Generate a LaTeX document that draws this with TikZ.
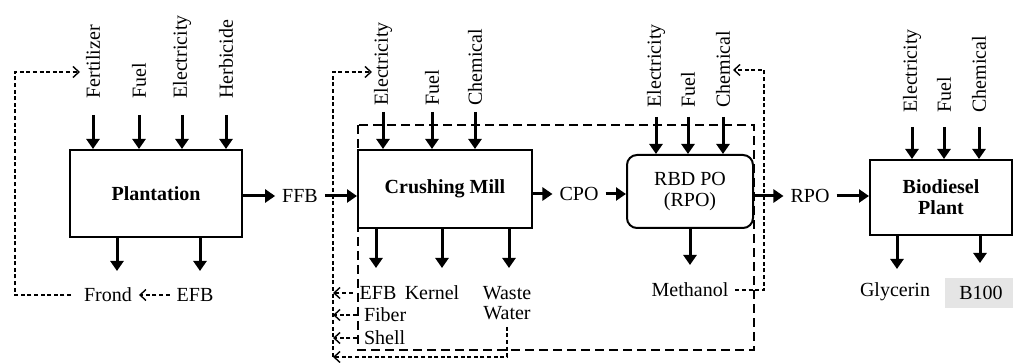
\documentclass[tikz,border=0pt]{standalone}
\usepackage{fontspec}
\setmainfont{Liberation Serif}
\usetikzlibrary{arrows.meta,positioning,calc}
\tikzset{
  unit/.style   ={draw=black,line width=1pt,align=center,inner sep=2pt,
                  font=\fontsize{10}{10.5}\selectfont\bfseries},
  flow/.style   ={-{Triangle[length=5pt,width=6.5pt]},line width=1.5pt},
  recycle/.style={-{Straight Barb[length=3pt,width=5.5pt]},line width=0.7pt,
                  dash pattern=on 2pt off 1.3pt},
  bound/.style  ={line width=1.4pt,dash pattern=on 4.5pt off 2.5pt},
  inlbl/.style  ={rotate=90,anchor=west,inner sep=#1},
  outlbl/.style ={align=center,font=\fontsize{10}{10}\selectfont}
}
\begin{document}
\begin{tikzpicture}[x=0.5pt,y=-0.5pt]
  \useasboundingbox (0,0) rectangle (1013,363);
  % process units
  \node[unit,minimum width=86pt,minimum height=43.5pt] (plant) at (156,193.5) {Plantation};
  \node[unit,minimum width=87pt,minimum height=39pt] (mill) at (445,189) {Crushing Mill};
  \node[unit,font=\fontsize{10}{10.5}\selectfont,rounded corners=5pt,
        minimum width=63pt,minimum height=36.5pt] (rbd) at (690,191.5) {RBD PO\\(RPO)};
  \node[unit,minimum width=71pt,minimum height=37.5pt] (bio) at (941,197.5) {Biodiesel\\Plant};
  % mill + refinery boundary
  \draw[bound] (358,125) rectangle (754,350);
  % inputs
  \node[inlbl=8pt] (fert) at (93,115) {Fertilizer};
  \node[inlbl=8pt] (fuela) at (139,115) {Fuel};
  \node[inlbl=8pt] (eleca) at (182,115) {Electricity};
  \node[inlbl=8pt] (herb) at (226,115) {Herbicide};
  \node[inlbl=3pt] (elecb) at (383,112) {Electricity};
  \node[inlbl=3pt] (fuelb) at (432,112) {Fuel};
  \node[inlbl=3pt] (chemb) at (475,112) {Chemical};
  \node[inlbl=4.5pt] (elecc) at (656,117) {Electricity};
  \node[inlbl=4.5pt] (fuelc) at (688,117) {Fuel};
  \node[inlbl=4.5pt] (chemc) at (723,117) {Chemical};
  \node[inlbl=7pt] (elecd) at (912,127) {Electricity};
  \node[inlbl=7pt] (fueld) at (944,127) {Fuel};
  \node[inlbl=7pt] (chemd) at (979,127) {Chemical};
  \foreach \n in {fert,fuela,eleca,herb} \draw[flow] (\n) -- (\n |- plant.north);
  \foreach \n in {elecb,fuelb,chemb} \draw[flow] (\n) -- (\n |- mill.north);
  \foreach \n in {elecc,fuelc,chemc} \draw[flow] (\n) -- (\n |- rbd.north);
  \foreach \n in {elecd,fueld,chemd} \draw[flow] (\n) -- (\n |- bio.north);
  % main product line
  \node (ffb) at (300,196) {FFB};
  \node (cpo) at (579,194) {CPO};
  \node (rpo) at (810,196) {RPO};
  \draw[flow] (plant.east |- ffb) -- (ffb);
  \draw[flow] (ffb) -- (ffb -| mill.west);
  \draw[flow] (mill.east |- cpo) -- (cpo);
  \draw[flow] (cpo) -- (cpo -| rbd.west);
  \draw[flow] (rbd.east |- rpo) -- (rpo);
  \draw[flow] (rpo) -- (rpo -| bio.west);
  % outputs
  \draw[flow] ([xshift=-19.5pt]plant.south) -- ++(0,33);
  \draw[flow] ([xshift=22pt]plant.south) -- ++(0,33);
  \draw[flow] ([xshift=-34.5pt]mill.south) -- ++(0,39);
  \draw[flow] ([xshift=-1.5pt]mill.south) -- ++(0,39);
  \draw[flow] ([xshift=32pt]mill.south) -- ++(0,39);
  \draw[flow] (rbd.south) -- ++(0,36);
  \draw[flow] ([xshift=-22pt]bio.south) -- ++(0,33);
  \draw[flow] ([xshift=19.5pt]bio.south) -- ++(0,27);
  \node[outlbl] (frond) at (108,295) {Frond};
  \node[outlbl] (efba) at (195,295) {EFB};
  \node[outlbl] (efbb) at (378,293) {EFB};
  \node[outlbl] (kernel) at (432,293) {Kernel};
  \node[outlbl] (waste) at (507,303) {Waste\\Water};
  \node[outlbl,anchor=west] (fiber) at (357,315) {Fiber};
  \node[outlbl,anchor=west] (shell) at (357,338) {Shell};
  \node[outlbl] (meth) at (690,290) {Methanol};
  \node[outlbl] (glyc) at (895,292) {Glycerin};
  \node[outlbl,fill=black!10,minimum width=36pt,minimum height=15pt] (biohund) at (981,293) {B100};
  % recycle loops
  \coordinate (plp) at (15,72);
  \coordinate (fertin) at (80,72);
  \coordinate (mtop) at (333,72);
  \coordinate (mbot) at (333,357);
  \coordinate (elecin) at (372,72);
  \coordinate (rlp) at (764,70);
  \coordinate (chemin) at (733,70);
  \draw[recycle] (efba) -- (frond);
  \draw[recycle,shorten <=3pt] (frond.west) -| (plp) -- (fertin);
  \draw[recycle] (efbb.west) -- (efbb.west -| mtop);
  \draw[recycle] (fiber.west) -- (fiber.west -| mtop);
  \draw[recycle] (shell.west) -- (shell.west -| mtop);
  \draw[recycle] (waste.south) |- (mbot);
  \draw[recycle] (mbot) -- (mtop) -- (elecin);
  \draw[recycle] (meth.east) -| (rlp) -- (chemin);
\end{tikzpicture}
\end{document}
